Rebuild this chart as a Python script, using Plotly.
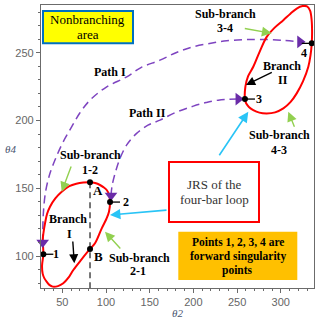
import plotly.graph_objects as go

# ---------------- data ----------------
loop1_theta2 = [28.3, 26.8, 27.5, 29.5, 32.2, 35.5, 39.0, 45.0, 51.1, 57.0, 62.6, 72.0, 81.7, 87.4,
                95.1, 100.5, 103.4, 104.6, 103.6, 100.8, 97.0, 93.1, 87.5, 81.7, 74.0, 66.0, 58.0,
                49.3, 42.0, 35.9, 32.5, 30.2, 28.5, 27.6, 28.3]
loop1_theta4 = [101.3, 93.0, 87.0, 83.5, 81.0, 78.5, 77.4, 77.8, 79.9, 84.0, 89.7, 97.5, 105.2, 109.4,
                120.4, 127.5, 132.7, 139.8, 145.0, 148.7, 150.8, 152.4, 153.8, 154.4, 154.2, 153.3, 151.5,
                147.4, 142.5, 136.4, 131.0, 124.1, 117.5, 111.8, 101.3]

loop2_theta2 = [259.0, 259.5, 262.5, 268.5, 276.0, 283.9, 293.0, 302.9, 311.0, 318.2, 325.0, 330.0,
                333.5, 335.3, 335.8, 335.4, 334.0, 331.5, 325.5, 318.2, 311.0, 302.9, 293.5, 283.9,
                275.5, 268.5, 263.5, 260.5, 259.0]
loop2_theta4 = [215.8, 224.9, 232.5, 239.6, 251.0, 261.7, 268.5, 274.0, 278.8, 282.6, 284.4, 284.2,
                281.0, 274.0, 265.5, 256.9, 248.0, 239.6, 229.0, 220.0, 213.5, 208.9, 206.0, 205.2,
                205.8, 207.7, 210.0, 212.5, 215.8]

path1_theta2 = [27.5, 28.3, 31.0, 35.9, 41.6, 50.0, 60.8, 70.0, 81.7, 100.0, 123.7, 140.0, 161.8,
                180.0, 199.9, 220.0, 238.1, 258.0, 276.0, 300.0, 322.0]
path1_theta4 = [110.0, 131.5, 148.0, 161.0, 170.8, 183.0, 195.4, 205.5, 215.0, 224.5, 232.2, 239.0,
                244.5, 250.0, 254.4, 257.0, 258.8, 259.6, 259.8, 259.2, 258.0]

path2_theta2 = [105.7, 107.0, 110.4, 116.0, 123.7, 135.0, 148.0, 161.8, 180.0, 199.9, 215.0, 228.5,
                240.0, 251.4]
path2_theta4 = [144.6, 152.0, 161.0, 172.0, 182.0, 190.5, 196.5, 200.3, 206.0, 210.6, 213.3, 215.0,
                215.6, 215.8]

sing_labels = ["1", "2", "3", "4"]
sing_theta2 = [28.3, 104.6, 259.0, 335.4]
sing_theta4 = [101.3, 139.8, 215.8, 256.9]

ab_theta2 = [81.7, 81.7]
ab_theta4 = [154.4, 105.2]

x_range = [25.6, 338.0]
y_range = [76.4, 285.2]
x_ticks = [50, 100, 150, 200, 250, 300]
y_ticks = [100, 150, 200, 250]

# ---------------- layout helpers ----------------
W, H = 320, 321
L, R, T, B = 41, 314, 5, 288


def P(px, py):
    return (px - L) / (R - L), (B - py) / (B - T)


SERIF = "Liberation Serif"
PURPLE = "#7E44C0"
PURPLE_D = "#6A2CA8"

fig = go.Figure()

# dashed vertical line through A-top and B
fig.add_trace(go.Scatter(x=[ab_theta2[0], ab_theta2[0]], y=[ab_theta4[0], y_range[0]],
                         mode="lines", line=dict(color="#555555", width=1.6, dash="6px,4px"),
                         hoverinfo="skip"))

# paths
for xs, ys in [(path1_theta2, path1_theta4), (path2_theta2, path2_theta4)]:
    fig.add_trace(go.Scatter(x=xs, y=ys, mode="lines", line=dict(color=PURPLE, width=1.5, dash="8px,5px", shape="spline"),
                             hoverinfo="skip"))

# loops
for xs, ys in [(loop1_theta2, loop1_theta4), (loop2_theta2, loop2_theta4)]:
    fig.add_trace(go.Scatter(x=xs, y=ys, mode="lines", line=dict(color="#FF0000", width=2, shape="spline", smoothing=1.0),
                             hoverinfo="skip"))

# arrowheads at path ends
fig.add_trace(go.Scatter(x=[path1_theta2[0], path2_theta2[0]], y=[path1_theta4[0], path2_theta4[0]],
                         mode="markers", marker=dict(symbol="triangle-down", size=11, color=PURPLE_D),
                         hoverinfo="skip", cliponaxis=False))
fig.add_trace(go.Scatter(x=[path1_theta2[-1], path2_theta2[-1]], y=[path1_theta4[-1], path2_theta4[-1]],
                         mode="markers", marker=dict(symbol="triangle-right", size=11, color=PURPLE_D),
                         hoverinfo="skip", cliponaxis=False))

# black points
fig.add_trace(go.Scatter(x=sing_theta2 + ab_theta2, y=sing_theta4 + ab_theta4, mode="markers",
                         marker=dict(size=6, color="black"), hoverinfo="skip", cliponaxis=False))

shapes = []
annotations = []

# leader lines for singular point labels (pixel offsets)
leader = {"1": (0, 10), "2": (0, 10), "3": (0, 10), "4": (-10, 0)}
label_off = {"1": (13, 0), "2": (16, 0), "3": (14, 0), "4": (-8, 10)}
for lab, xv, yv in zip(sing_labels, sing_theta2, sing_theta4):
    a, b = leader[lab]
    shapes.append(dict(type="line", xref="x", yref="y", xsizemode="pixel", ysizemode="pixel",
                       xanchor=xv, yanchor=yv, x0=a, x1=b, y0=0, y1=0,
                       line=dict(color="black", width=1.3)))
    dx, dy = label_off[lab]
    annotations.append(dict(x=xv, y=yv, xref="x", yref="y", text="<b>%s</b>" % lab, showarrow=False,
                            xshift=dx, yshift=-dy, font=dict(family=SERIF, size=12, color="black")))

# boxes
def rect(x0, y0, x1, y1, fill, line_color, lw):
    a0, b0 = P(x0, y1)
    a1, b1 = P(x1, y0)
    shapes.append(dict(type="rect", xref="paper", yref="paper", x0=a0, y0=b0, x1=a1, y1=b1,
                       fillcolor=fill, line=dict(color=line_color, width=lw), layer="above"))

rect(43, 11, 133, 43.3, "#FFFF00", "#0070C0", 2)
rect(169, 162, 259, 222, "white", "#FF0000", 2)
rect(178.3, 231.7, 297.3, 280, "#FFC000", "rgba(0,0,0,0)", 0)


def text(s, px, py, size=12, bold=True, color="black", family=SERIF, italic=False):
    x, y = P(px, py)
    if bold:
        s = "<b>%s</b>" % s
    if italic:
        s = "<i>%s</i>" % s
    annotations.append(dict(x=x, y=y, xref="paper", yref="paper", text=s, showarrow=False,
                            xanchor="center", yanchor="middle",
                            font=dict(family=family, size=size, color=color)))


text("Nonbranching", 87.5, 19, 13, False)
text("area", 87.5, 34.5, 13, False)
text("JRS of the", 214, 184, 13, False, "#333333")
text("four-bar loop", 214, 199.3, 13, False, "#333333")
text("Points 1, 2, 3, 4 are", 237.7, 242, 11.5)
text("forward singularity", 237.7, 256.5, 11.5)
text("points", 237.7, 270.5, 11.5)

text("Path I", 110, 72)
text("Path II", 147.5, 113)
text("Sub-branch", 225.5, 14)
text("3-4", 225, 27.5)
text("Branch", 281.7, 65.7)
text("II", 283, 80)
text("Sub-branch", 279, 135)
text("4-3", 279.3, 150)
text("Sub-branch", 90, 155)
text("1-2", 90, 169.5)
text("Branch", 68.3, 219.3)
text("I", 69.3, 234.3)
text("A", 98.3, 190.7, 13)
text("B", 98.3, 256, 13)
text("Sub-branch", 139.5, 258.3)
text("2-1", 138.3, 271)

text("θ2", 177, 313, 11, False, "#4A5570", italic=True)
text("θ4", 10, 149, 11, False, "#4A5570", italic=True)


def arrow(tip, tail, color, size=1.2, width=1.4):
    x, y = P(*tip)
    annotations.append(dict(x=x, y=y, xref="paper", yref="paper", text="", showarrow=True,
                            ax=tail[0] - tip[0], ay=tail[1] - tip[1], axref="pixel", ayref="pixel",
                            arrowhead=2, arrowsize=size, arrowwidth=width, arrowcolor=color, standoff=0))


GREEN = "#92D050"
CYAN = "#29C4F6"
arrow((271.7, 33.3), (243.3, 28.3), GREEN, 1.4)
arrow((288.3, 111.7), (295, 128.3), GREEN, 1.4)
arrow((61.7, 191.7), (71.7, 165), GREEN, 1.4)
arrow((105, 231.7), (121.7, 250), GREEN, 1.4)
arrow((246, 85), (273.3, 71.7), "black", 1.3)
arrow((74.3, 263.3), (72.7, 240), "black", 1.3)
arrow((248.3, 111.7), (218.3, 156.7), CYAN, 1.3, 1.6)
arrow((110, 215), (168, 210), CYAN, 1.3, 1.6)

axis_common = dict(showgrid=False, zeroline=False, showline=True, linecolor="#6b6b6b", linewidth=1.3,
                   mirror=True, ticks="outside", ticklen=4, tickcolor="#6b6b6b", tickwidth=1,
                   tickfont=dict(family="Liberation Sans", size=11, color="#666666"),
                   minor=dict(dtick=10, ticks="outside", ticklen=2, tickcolor="#6b6b6b"))

fig.update_layout(
    width=W, height=H,
    margin=dict(l=L, r=W - R, t=T, b=H - B, pad=0),
    paper_bgcolor="white", plot_bgcolor="white",
    showlegend=False,
    xaxis=dict(range=x_range, tickvals=x_ticks, **axis_common),
    yaxis=dict(range=y_range, tickvals=y_ticks, **axis_common),
    shapes=shapes,
    annotations=annotations,
)

fig.write_html("out.html", config={"displayModeBar": False},
               post_script="document.body.style.margin='0';document.body.style.overflow='hidden';")
